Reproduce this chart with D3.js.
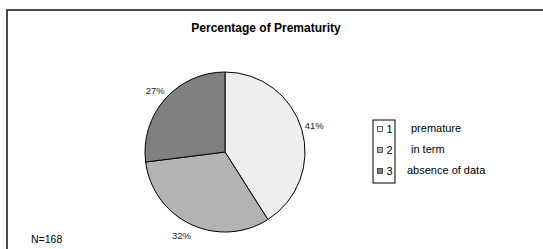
<!DOCTYPE html>
<html>
<head>
<meta charset="utf-8">
<script src="https://cdn.jsdelivr.net/npm/d3@7"></script>
<style>
  body { margin: 0; background: #fff; }
  svg { display: block; font-family: Arial, "Liberation Sans", sans-serif; }
</style>
</head>
<body>
<div id="chart"></div>
<script>
// chart data
const categories = ["premature", "in term", "absence of data"];
const codes = ["1", "2", "3"];
const values = [41, 32, 27];
const colors = ["#eeeeee", "#b3b3b3", "#808080"];

const width = 543, height = 249;
const cx = 225, cy = 152, radius = 80;

const svg = d3.select("#chart")
  .append("svg")
  .attr("width", width)
  .attr("height", height);

// outer frame (runs off the right and bottom edge)
svg.append("rect")
  .attr("x", 7)
  .attr("y", 10)
  .attr("width", width)
  .attr("height", height)
  .attr("fill", "none")
  .attr("stroke", "#111")
  .attr("stroke-width", 1.5);

svg.append("text")
  .attr("x", 266)
  .attr("y", 32)
  .attr("text-anchor", "middle")
  .attr("font-size", 12)
  .attr("font-weight", "bold")
  .text("Percentage of Prematurity");

const pie = d3.pie().sort(null).value(d => d);
const arcs = pie(values);
const arc = d3.arc().innerRadius(0).outerRadius(radius);

const g = svg.append("g")
  .attr("transform", "translate(" + cx + "," + cy + ")");

g.selectAll("path")
  .data(arcs)
  .enter().append("path")
  .attr("d", arc)
  .attr("fill", (d, i) => colors[i])
  .attr("stroke", "#000")
  .attr("stroke-width", 1);

// percentage labels outside the pie
const labelArc = d3.arc().innerRadius(radius + 13).outerRadius(radius + 13);
g.selectAll("text")
  .data(arcs)
  .enter().append("text")
  .attr("transform", (d, i) => {
    const c = labelArc.centroid(d);
    if (i === 1) c[0] -= 4;
    return "translate(" + c + ")";
  })
  .attr("text-anchor", "middle")
  .attr("dy", "0.35em")
  .attr("font-size", 9.5)
  .attr("fill", "#222")
  .text(d => d.data + "%");

// legend
const legend = svg.append("g");
legend.append("rect")
  .attr("x", 373)
  .attr("y", 120)
  .attr("width", 22)
  .attr("height", 63)
  .attr("fill", "#fff")
  .attr("stroke", "#000")
  .attr("stroke-width", 1);

const rowY = d3.scalePoint().domain(codes).range([129, 171]);

legend.selectAll(".sw")
  .data(codes)
  .enter().append("rect")
  .attr("x", 377.5)
  .attr("y", d => rowY(d) - 2.5)
  .attr("width", 5)
  .attr("height", 5)
  .attr("fill", (d, i) => colors[i])
  .attr("stroke", "#000")
  .attr("stroke-width", 0.6);

legend.selectAll(".code")
  .data(codes)
  .enter().append("text")
  .attr("x", 386.5)
  .attr("y", d => rowY(d) + 4)
  .attr("font-size", 11)
  .text(d => d);

legend.selectAll(".lab")
  .data(categories)
  .enter().append("text")
  .attr("x", (d, i) => i === 2 ? 407 : 411)
  .attr("y", (d, i) => rowY(codes[i]) + 3)
  .attr("font-size", 11)
  .text(d => d);

svg.append("text")
  .attr("x", 31)
  .attr("y", 243)
  .attr("font-size", 10.5)
  .text("N=168");
</script>
</body>
</html>
